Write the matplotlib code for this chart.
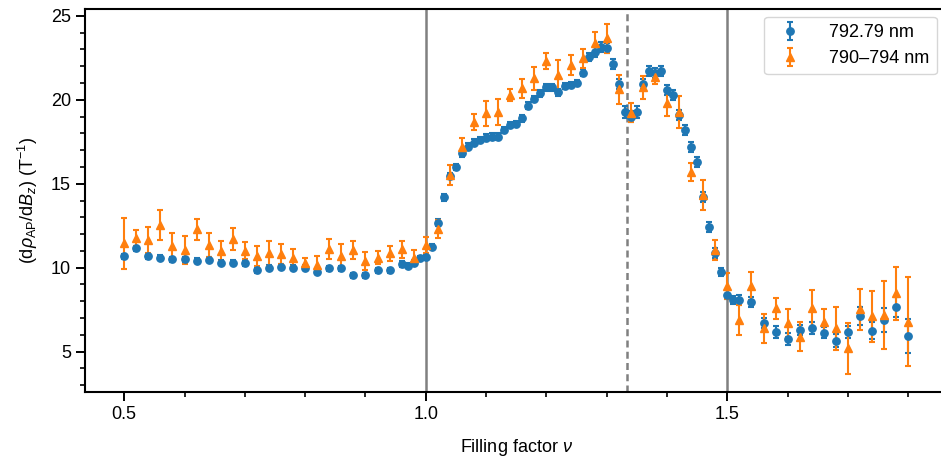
import numpy as np
import matplotlib
matplotlib.use("Agg")
import matplotlib.pyplot as plt
from matplotlib.ticker import MultipleLocator

plt.rcParams['font.family'] = ['Liberation Sans', 'DejaVu Sans']
plt.rcParams['mathtext.fontset'] = 'custom'
plt.rcParams['mathtext.rm'] = 'Liberation Sans'
plt.rcParams['mathtext.it'] = 'Liberation Sans:italic'
plt.rcParams['font.size'] = 13

# 792.79 nm series (blue)
nu_blue = ([round(0.50 + 0.02 * i, 2) for i in range(23)]
           + [0.96, 0.97, 0.98, 0.99]
           + [round(1.00 + 0.01 * i, 2) for i in range(53)]
           + [round(1.54 + 0.02 * i, 2) for i in range(14)])
val_blue = [10.69, 11.15, 10.69, 10.60, 10.50, 10.50, 10.42, 10.46, 10.30, 10.30,
            10.26, 9.86, 10.00, 10.06, 10.00, 10.00, 9.76, 9.96, 9.96, 9.56,
            9.56, 9.86, 9.86,
            10.22, 10.12, 10.30, 10.56,
            10.65, 11.25, 12.68, 14.19, 15.46, 16.00, 16.81, 17.20, 17.44, 17.60,
            17.74, 17.80, 17.80, 18.20, 18.50, 18.55, 18.89, 19.64, 20.04, 20.38,
            20.74, 20.74, 20.44, 20.82, 20.88, 21.00, 21.60, 22.56, 22.86, 23.16,
            23.06, 22.12, 20.93, 19.29, 19.00, 19.27, 20.93, 21.73, 21.60, 21.73,
            20.58, 20.28, 19.09, 18.20, 17.20, 16.27, 14.20, 12.40, 10.86, 9.76,
            8.40, 8.08, 8.08,
            7.98, 6.69, 6.19, 5.74, 6.31, 6.40, 6.14, 5.66, 6.19, 7.12,
            6.25, 6.89, 7.68, 5.93]
err_blue = ([0.15] * 23 + [0.15] * 4
            + [0.15, 0.15, 0.2, 0.2, 0.2, 0.2, 0.2, 0.2, 0.2, 0.2,
               0.2, 0.2, 0.2, 0.2, 0.2, 0.2, 0.2, 0.2, 0.2, 0.2,
               0.2, 0.2, 0.2, 0.2, 0.2, 0.2, 0.2, 0.25, 0.3, 0.3,
               0.3, 0.3, 0.3, 0.35, 0.35, 0.35, 0.3, 0.3, 0.3, 0.3,
               0.3, 0.3, 0.3, 0.3, 0.3, 0.3, 0.3, 0.3, 0.3, 0.25,
               0.25, 0.25, 0.3]
            + [0.3, 0.3, 0.35, 0.35, 0.3, 0.35, 0.35, 0.4, 0.35, 0.55,
               0.5, 0.7, 0.6, 1.0])

# 790-794 nm series (orange)
nu_orange = [round(0.50 + 0.02 * i, 2) for i in range(66)]
val_orange = [11.45, 11.75, 11.65, 12.54, 11.29, 11.05, 12.28, 11.35, 11.00, 11.69,
              11.00, 10.70, 10.85, 10.80, 10.60, 10.26, 10.16, 11.09, 10.70, 11.05,
              10.40, 10.60, 10.85, 11.09, 10.60, 11.35,
              12.28, 15.52, 17.20, 18.69, 19.19, 19.29, 20.28, 20.67, 21.27, 22.32,
              21.47, 22.06, 22.46, 23.35, 23.65, 20.61, 19.23, 20.73, 21.33, 19.82,
              19.29, 15.71, 14.33, 11.05, 8.91, 6.89, 8.91, 6.39, 7.58, 6.73,
              5.90, 7.58, 6.79, 6.39, 5.20, 7.52, 7.12, 7.18, 8.47, 6.79]
err_orange = [1.52, 0.47, 0.77, 0.89, 0.79, 0.82, 0.64, 0.72, 0.60, 0.65,
              0.50, 0.60, 0.75, 0.60, 0.50, 0.33, 0.55, 0.60, 0.72, 0.55,
              0.55, 0.37, 0.45, 0.50, 0.45, 0.50,
              0.54, 0.60, 0.52, 0.48, 0.75, 0.77, 0.33, 0.55, 0.70, 0.48,
              0.87, 0.58, 0.58, 0.67, 0.86, 0.85, 0.57, 0.67, 0.37, 0.80,
              0.95, 0.55, 0.92, 0.62, 0.78, 0.90, 0.84, 0.87, 0.62, 0.84,
              0.86, 1.09, 0.77, 1.26, 1.53, 1.21, 1.52, 2.00, 1.60, 2.65]

fig = plt.figure(figsize=(9.41, 4.67), dpi=100)
ax = fig.add_axes([85 / 941, 1 - 392 / 467, (947.5 - 85) / 941, (392 - 9) / 467])

for v, ls in [(1.0, '-'), (4 / 3, (0, (2.8, 1.7))), (1.5, '-')]:
    ax.axvline(v, color='#808080', lw=1.8, ls=ls, zorder=0)

ax.errorbar(nu_blue, val_blue, yerr=err_blue, fmt='o', color='#1f77b4',
            ms=5.3, elinewidth=1.5, capsize=2.0, capthick=1.5, label='792.79 nm')
ax.errorbar(nu_orange, val_orange, yerr=err_orange, fmt='^', color='#ff7f0e',
            ms=5.8, elinewidth=1.5, capsize=2.0, capthick=1.5, label='790\u2013794 nm')

ax.set_xlim(0.435, 1.865)
ax.set_ylim(2.6, 25.4)
ax.xaxis.set_major_locator(MultipleLocator(0.5))
ax.xaxis.set_minor_locator(MultipleLocator(0.1))
ax.yaxis.set_major_locator(MultipleLocator(5))
ax.yaxis.set_minor_locator(MultipleLocator(1))
ax.tick_params(which='major', length=6.5, width=1.4, labelsize=13)
ax.tick_params(which='minor', length=3.6, width=1.2)
for s in ax.spines.values():
    s.set_linewidth(1.5)

ax.set_xlabel(r'Filling factor $\nu$', fontsize=13, labelpad=10)
ax.set_ylabel(r'$(\mathrm{d}\rho_\mathrm{AP}/\mathrm{d}B_z)$ (T$^{-1}$)', fontsize=13, labelpad=8)

ax.legend(loc='upper right', bbox_to_anchor=(936.7 / 941, 1 - 16.7 / 467),
          bbox_transform=fig.transFigure, borderaxespad=0, fontsize=13,
          handletextpad=1.2, framealpha=0.8)

fig.savefig('out.png', dpi=100)
